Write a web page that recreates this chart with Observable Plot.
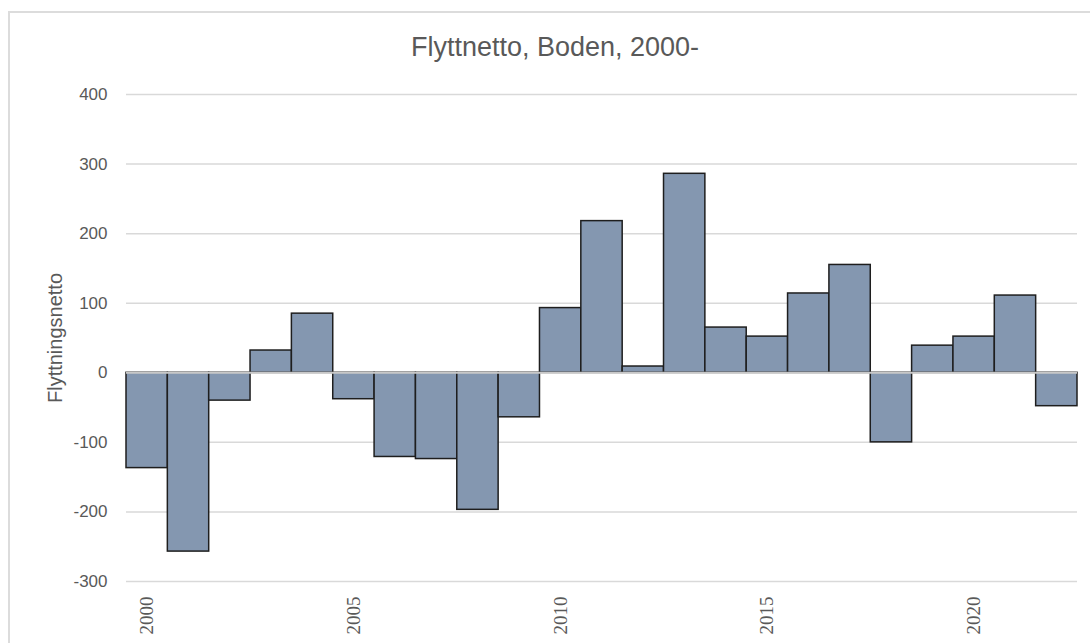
<!DOCTYPE html>
<html>
<head>
<meta charset="utf-8">
<script src="https://cdn.jsdelivr.net/npm/d3@7"></script>
<script src="https://cdn.jsdelivr.net/npm/@observablehq/plot@0.6"></script>
<style>
  html, body { margin: 0; padding: 0; background: #fff; }
  #wrap { position: relative; width: 1090px; height: 643px; overflow: hidden; background: #fff; }
  #frame { position: absolute; left: 8px; top: 11px; width: 1100px; height: 700px; border: 2px solid #dcdcdc; box-sizing: border-box; pointer-events: none; }
  #title { position: relative; height: 38px; padding-top: 32px; padding-left: 20px; text-align: center; font-family: "Liberation Sans", Arial, sans-serif; font-size: 27px; line-height: 30px; color: #595959; }
  #chart { position: relative; }
</style>
</head>
<body>
<div id="wrap">
  <div id="frame"></div>
  <div id="title">Flyttnetto, Boden, 2000-</div>
  <div id="chart"></div>
</div>
<script>
const years = [2000, 2001, 2002, 2003, 2004, 2005, 2006, 2007, 2008, 2009, 2010, 2011,
               2012, 2013, 2014, 2015, 2016, 2017, 2018, 2019, 2020, 2021, 2022];
const netto = [-137, -257, -40, 32, 85, -38, -121, -124, -197, -64, 93, 218,
               9, 286, 65, 52, 114, 155, -100, 39, 52, 111, -48];
const yTicks = [-300, -200, -100, 0, 100, 200, 300, 400];
const xTicks = [2000, 2005, 2010, 2015, 2020];
const yLabel = "Flyttningsnetto";

const data = years.map((year, i) => ({year, value: netto[i]}));

const chart = Plot.plot({
  width: 1090,
  height: 573,
  marginTop: 24,
  marginBottom: 62,
  marginLeft: 126,
  marginRight: 13,
  style: {background: "transparent", overflow: "visible"},
  x: {type: "band", domain: years, padding: 0, round: false, axis: null},
  y: {domain: [-300, 400], axis: null},
  marks: [
    Plot.gridY(yTicks, {stroke: "#d9d9d9", strokeOpacity: 1, strokeWidth: 1.5}),
    Plot.axisY(yTicks, {
      tickSize: 0, tickPadding: 19, tickFormat: d => String(d),
      fontSize: 17, fill: "#595959", fontFamily: "Liberation Sans, Arial, sans-serif", label: null
    }),
    Plot.barY(data, {x: "year", y: "value", fill: "#8497b0", stroke: "#1e1e1e", strokeWidth: 1.5}),
    Plot.ruleY([0], {stroke: "#c8c8c8", strokeWidth: 2}),
    Plot.axisX(xTicks, {
      anchor: "bottom", tickSize: 0, tickPadding: 15, tickRotate: -90, tickFormat: d => String(d),
      fontSize: 19, fill: "#595959", fontFamily: "Liberation Serif, serif", label: null
    }),
    Plot.text([yLabel], {
      frameAnchor: "left", dx: -71, rotate: -90, textAnchor: "middle", text: d => d,
      fontSize: 20, fill: "#595959", fontFamily: "Liberation Sans, Arial, sans-serif"
    })
  ]
});
document.getElementById("chart").appendChild(chart);
</script>
</body>
</html>
